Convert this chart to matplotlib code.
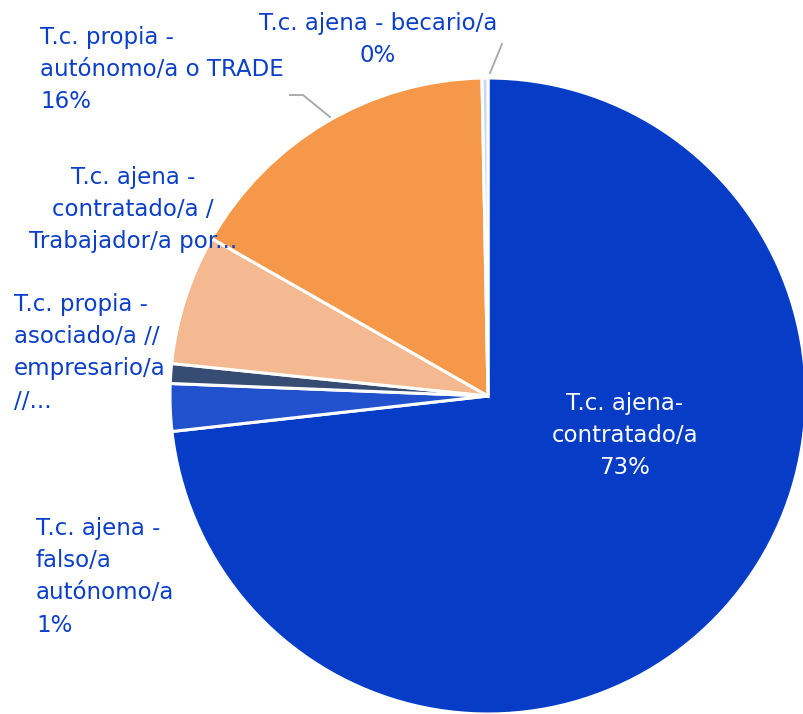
import matplotlib
matplotlib.use("Agg")
from matplotlib import pyplot as plt

# données
categorias = ["T.c. ajena-contratado/a", "T.c. ajena - falso/a autónomo/a",
              "T.c. propia - asociado/a // empresario/a //...",
              "T.c. ajena - contratado/a / Trabajador/a por...",
              "T.c. propia - autónomo/a o TRADE", "T.c. ajena - becario/a"]
valores = [73.0, 2.4, 1.0, 6.6, 16.4, 0.3]
colores = ["#063cc6", "#2151cc", "#374c72", "#f4b990", "#f59849", "#c9d8f0"]

W, H = 804, 714
azul = "#0b3fc8"
fuente = "DejaVu Sans"

fig = plt.figure(figsize=(W / 100, H / 100), dpi=100)
ax = fig.add_axes([0, 0, 1, 1])

cx, cy, r = 488, H - 396, 318
ax.pie(valores, colors=colores, startangle=90, counterclock=False,
       center=(cx, cy), radius=r, frame=True,
       wedgeprops=dict(edgecolor="white", linewidth=2.2))
ax.set_xlim(0, W)
ax.set_ylim(0, H)
ax.set_aspect("equal")
ax.axis("off")

def txt(x, y, s, ha="left", color=azul):
    ax.text(x, H - y, s, ha=ha, va="top", color=color, fontsize=16.5,
            family=fuente, linespacing=1.51, multialignment=ha)

txt(378, 12, "T.c. ajena - becario/a\n0%", ha="center")
txt(40, 26, "T.c. propia -\nautónomo/a o TRADE\n16%")
txt(133, 166, "T.c. ajena -\ncontratado/a /\nTrabajador/a por...", ha="center")
txt(14, 293, "T.c. propia -\nasociado/a //\nempresario/a\n//...")
txt(36, 517, "T.c. ajena -\nfalso/a\nautónomo/a\n1%")
txt(625, 392, "T.c. ajena-\ncontratado/a\n73%", ha="center", color="white")

# lignes de rappel
ax.plot([490, 502], [H - 73, H - 44], color="#a6a6a6", lw=1.3)
ax.plot([290, 303, 330], [H - 95, H - 95, H - 117], color="#a6a6a6", lw=1.3)

fig.savefig("out.png", dpi=100)
